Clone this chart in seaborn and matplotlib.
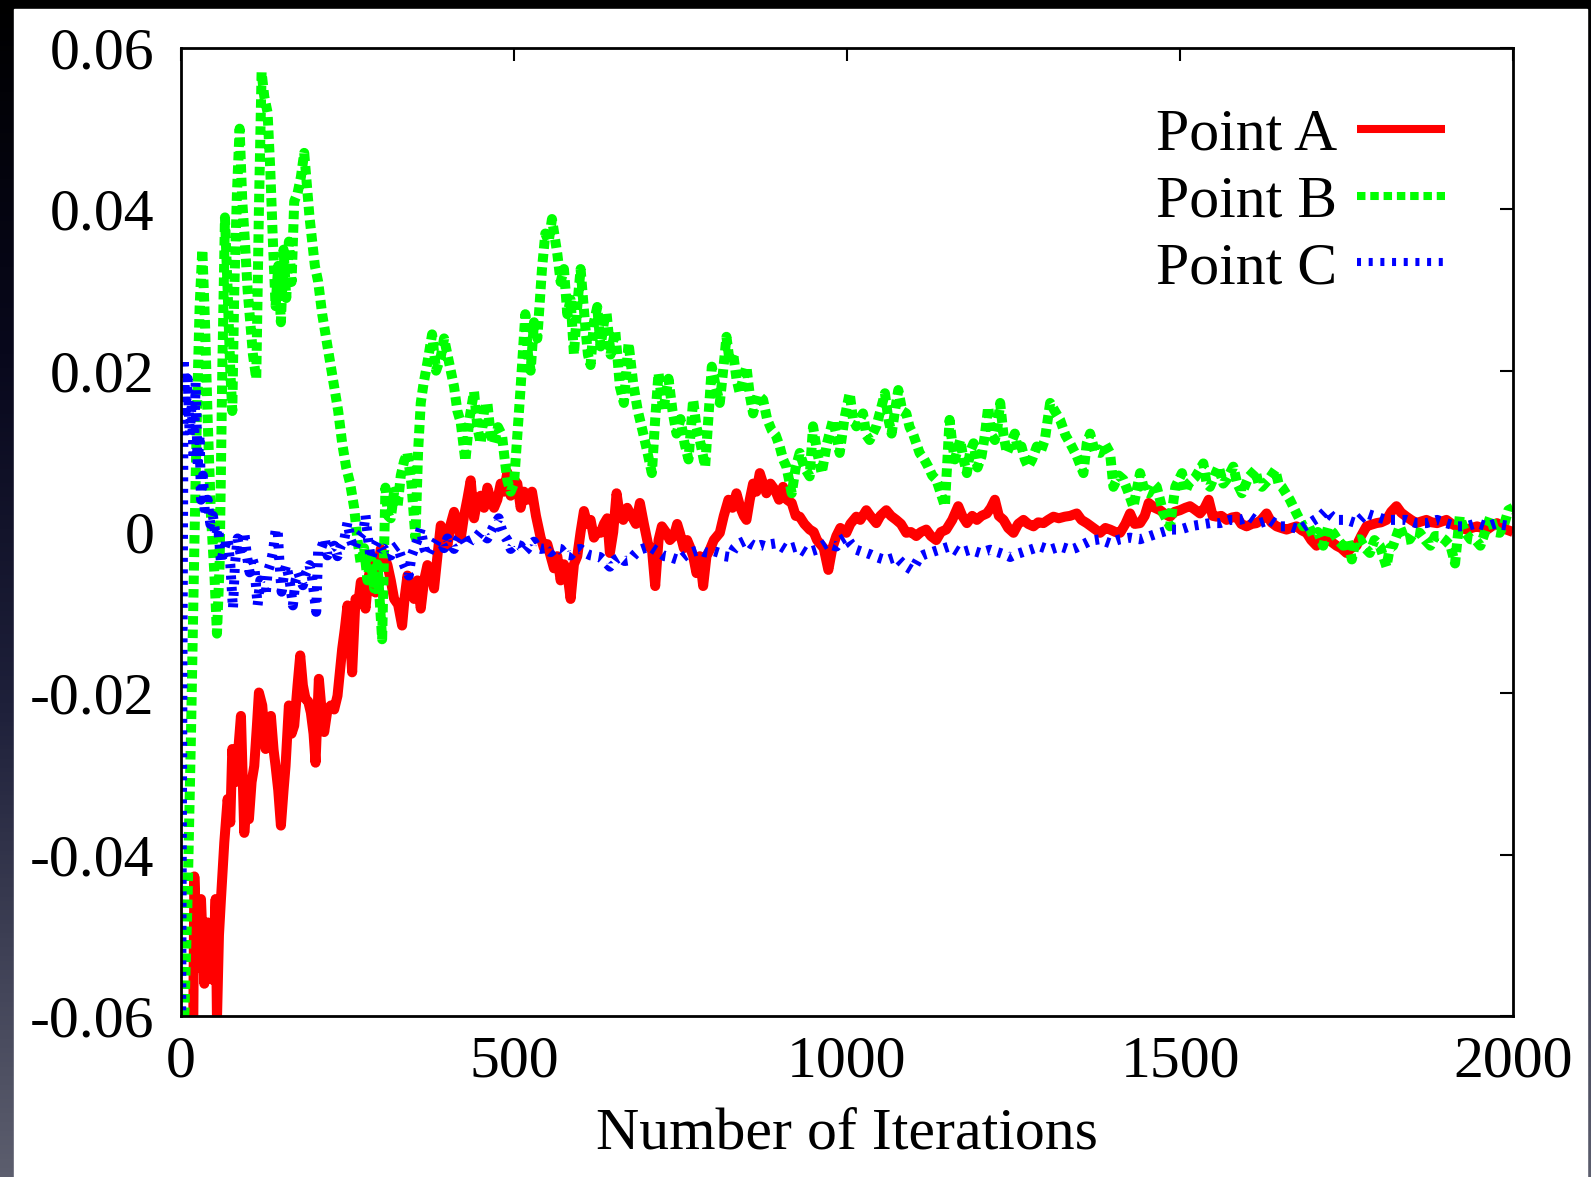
import numpy as np
import matplotlib
matplotlib.use("Agg")
import matplotlib.pyplot as plt
from matplotlib.patches import Rectangle
import seaborn as sns

# values (iteration, value)
iters_a = [18, 20, 25, 30, 35, 40, 47, 52, 54, 57, 60, 65, 70, 74, 77, 82, 86, 90, 95, 99,
           102, 106, 110, 114, 117, 122, 127, 131, 135, 139, 142, 146, 150, 154, 157, 162, 166, 170, 175, 179,
           183, 187, 191, 195, 199, 202, 207, 211, 215, 220, 225, 230, 235, 239, 242, 246, 250, 254, 257, 262,
           266, 270, 274, 277, 281, 285, 289, 292, 296, 300, 305, 310, 315, 320, 326, 332, 336, 340, 345, 350,
           355, 360, 365, 370, 375, 380, 385, 390, 395, 400, 405, 410, 415, 420, 425, 430, 435, 440, 445, 450,
           455, 460, 465, 470, 475, 480, 485, 490, 495, 500, 505, 510, 515, 520, 527, 533, 540, 545, 550, 555,
           560, 565, 570, 575, 580, 585, 590, 595, 600, 605, 610, 615, 620, 625, 630, 635, 640, 644, 649, 654,
           659, 664, 670, 677, 683, 689, 695, 702, 707, 712, 717, 722, 728, 734, 740, 745, 749, 755, 760, 764,
           769, 774, 779, 784, 789, 794, 800, 809, 815, 822, 828, 834, 840, 845, 849, 854, 859, 864, 869, 874,
           879, 885, 892, 898, 904, 910, 917, 923, 929, 936, 944, 950, 955, 959, 965, 972, 978, 984, 990, 999,
           1005, 1014, 1020, 1029, 1035, 1044, 1050, 1059, 1066, 1074, 1081, 1089, 1096, 1104, 1111, 1119, 1126, 1134, 1141, 1149,
           1158, 1167, 1173, 1180, 1188, 1195, 1202, 1210, 1216, 1222, 1228, 1235, 1242, 1250, 1257, 1265, 1272, 1280, 1287, 1295,
           1302, 1310, 1318, 1327, 1335, 1345, 1352, 1360, 1370, 1380, 1388, 1395, 1403, 1410, 1418, 1425, 1432, 1440, 1447, 1453,
           1462, 1470, 1478, 1485, 1492, 1500, 1508, 1515, 1522, 1530, 1537, 1543, 1549, 1555, 1562, 1570, 1578, 1585, 1592, 1600,
           1608, 1615, 1622, 1630, 1637, 1645, 1652, 1660, 1667, 1675, 1683, 1690, 1697, 1705, 1712, 1720, 1727, 1735, 1742, 1750,
           1757, 1765, 1772, 1780, 1787, 1795, 1802, 1810, 1817, 1825, 1832, 1840, 1847, 1855, 1862, 1870, 1878, 1886, 1893, 1900,
           1908, 1916, 1923, 1930, 1938, 1946, 1953, 1961, 1968, 1976, 1983, 1990, 2000]
vals_a = [-0.066, -0.0427, -0.054, -0.0455, -0.056, -0.0484, -0.0555, -0.0455, -0.0605, -0.05,
          -0.0455, -0.0385, -0.0331, -0.036, -0.0269, -0.031, -0.027, -0.0228, -0.0373, -0.033,
          -0.0356, -0.031, -0.029, -0.024, -0.0199, -0.0215, -0.0269, -0.025, -0.0228, -0.027,
          -0.029, -0.032, -0.0364, -0.032, -0.029, -0.0215, -0.025, -0.024, -0.019, -0.0153,
          -0.019, -0.0207, -0.021, -0.0224, -0.025, -0.0286, -0.0182, -0.022, -0.0248, -0.022,
          -0.0215, -0.022, -0.0203, -0.017, -0.0145, -0.012, -0.0091, -0.013, -0.0174, -0.0083,
          -0.009, -0.0062, -0.008, -0.0095, -0.006, -0.0041, -0.006, -0.0075, -0.004, -0.0021,
          -0.003, -0.0041, -0.006, -0.0083, -0.009, -0.0116, -0.008, -0.0054, -0.007, -0.0083,
          -0.006, -0.0095, -0.006, -0.0041, -0.005, -0.007, -0.003, 0.0008, 0.0, -0.0017,
          0.001, 0.0025, 0.001, -0.0008, 0.002, 0.0041, 0.0064, 0.0017, 0.004, 0.0045,
          0.003, 0.0055, 0.004, 0.003, 0.004, 0.006, 0.005, 0.0074, 0.0045, 0.0065,
          0.006, 0.003, 0.005, 0.004, 0.005, 0.002, -0.0007, -0.002, -0.0015, -0.003,
          -0.0045, -0.003, -0.006, -0.004, -0.005, -0.0083, -0.004, -0.003, 0.0, 0.0026,
          0.001, 0.0015, -0.0007, 0.0, -0.0001, 0.001, 0.0017, -0.0026, 0.0, 0.0048,
          0.002, 0.0015, 0.003, 0.0019, 0.001, 0.0036, 0.001, -0.0018, -0.002, -0.0067,
          -0.001, 0.0007, 0.0, -0.001, -0.0005, 0.001, -0.0001, -0.002, -0.001, -0.0018,
          -0.003, -0.0051, -0.003, -0.0067, -0.003, -0.0022, -0.001, -0.0001, 0.002, 0.004,
          0.003, 0.0048, 0.003, 0.002, 0.0015, 0.004, 0.006, 0.005, 0.0073, 0.006,
          0.0048, 0.006, 0.0052, 0.004, 0.0056, 0.004, 0.0036, 0.002, 0.0019, 0.001,
          0.0003, 0.0, -0.001, -0.0014, -0.002, -0.0047, -0.002, -0.0005, 0.0005, -0.0001,
          0.001, 0.0019, 0.0015, 0.0027, 0.002, 0.0011, 0.002, 0.0027, 0.002, 0.0015,
          0.001, -0.0001, 0.0, -0.0005, 0.0, 0.0003, -0.0005, -0.001, 0.0, 0.0003,
          0.0015, 0.0032, 0.002, 0.0011, 0.002, 0.0015, 0.002, 0.0023, 0.003, 0.004,
          0.002, 0.0015, 0.0005, -0.0001, 0.001, 0.0015, 0.001, 0.0007, 0.0012, 0.0011,
          0.0015, 0.0019, 0.0017, 0.0019, 0.002, 0.0023, 0.0015, 0.0011, 0.0005, -0.0001,
          0.0005, 0.0003, 0.0, -0.0001, 0.001, 0.0023, 0.001, 0.0011, 0.002, 0.0036,
          0.003, 0.0027, 0.0022, 0.0019, 0.0025, 0.0027, 0.003, 0.0032, 0.0028, 0.0023,
          0.003, 0.004, 0.002, 0.0019, 0.002, 0.0015, 0.0018, 0.0019, 0.001, 0.0007,
          0.001, 0.0011, 0.0015, 0.0023, 0.0012, 0.0007, 0.0005, 0.0003, 0.0005, 0.0007,
          0.0002, -0.0001, -0.001, -0.0017, -0.001, -0.0009, -0.0012, -0.0017, -0.002, -0.0026,
          -0.002, -0.0017, -0.0005, 0.0007, 0.0009, 0.0011, 0.0012, 0.0015, 0.0025, 0.0032,
          0.0024, 0.0019, 0.0015, 0.0011, 0.0013, 0.0015, 0.0012, 0.0011, 0.0013, 0.0015,
          0.001, 0.0007, 0.0005, 0.0003, 0.0005, 0.0007, 0.0005, 0.0003, 0.0007, 0.0011,
          0.0007, 0.0003, 0.0]

iters_b = [0, 5, 10, 15, 20, 24, 28, 32, 36, 40, 45, 50, 54, 58, 62, 66, 70, 74, 77, 80,
           84, 88, 92, 96, 100, 104, 108, 113, 117, 121, 125, 130, 134, 138, 142, 146, 150, 154, 158, 162,
           166, 170, 175, 180, 185, 189, 193, 197, 201, 206, 212, 218, 224, 230, 236, 242, 248, 254, 260, 265,
           270, 275, 280, 285, 290, 295, 302, 307, 311, 315, 320, 325, 330, 335, 340, 346, 352, 356, 360, 364,
           370, 377, 383, 390, 395, 400, 405, 410, 415, 420, 427, 433, 440, 445, 450, 455, 460, 465, 470, 476,
           482, 486, 490, 495, 500, 505, 510, 517, 521, 525, 530, 535, 542, 547, 552, 557, 565, 570, 575, 580,
           585, 590, 595, 600, 607, 611, 615, 620, 625, 630, 635, 639, 645, 652, 659, 665, 672, 679, 686, 694,
           700, 707, 712, 717, 724, 732, 738, 744, 750, 756, 762, 769, 774, 779, 787, 797, 803, 809, 814, 819,
           824, 829, 834, 839, 844, 849, 854, 859, 866, 874, 880, 887, 893, 899, 904, 909, 917, 923, 929, 936,
           944, 949, 955, 962, 970, 979, 984, 989, 996, 1004, 1009, 1014, 1024, 1029, 1034, 1044, 1050, 1057, 1062, 1067,
           1072, 1077, 1083, 1089, 1094, 1099, 1104, 1109, 1116, 1122, 1128, 1134, 1140, 1147, 1154, 1158, 1162, 1170, 1175, 1180,
           1185, 1190, 1196, 1202, 1207, 1212, 1217, 1222, 1226, 1230, 1235, 1240, 1246, 1252, 1257, 1262, 1267, 1272, 1278, 1285,
           1291, 1297, 1305, 1312, 1320, 1328, 1335, 1345, 1355, 1360, 1365, 1372, 1380, 1387, 1395, 1400, 1408, 1415, 1422, 1430,
           1440, 1447, 1453, 1460, 1465, 1470, 1475, 1485, 1493, 1503, 1508, 1513, 1523, 1535, 1540, 1545, 1552, 1558, 1565, 1570,
           1580, 1586, 1593, 1603, 1613, 1618, 1623, 1633, 1643, 1648, 1653, 1665, 1675, 1685, 1692, 1700, 1707, 1715, 1722, 1730,
           1737, 1745, 1752, 1758, 1764, 1770, 1778, 1785, 1792, 1800, 1805, 1810, 1815, 1820, 1825, 1830, 1838, 1845, 1852, 1860,
           1868, 1876, 1883, 1890, 1898, 1906, 1913, 1920, 1928, 1936, 1944, 1951, 1958, 1966, 1973, 1980, 1987, 1993, 2000]
vals_b = [-0.065, -0.06, -0.045, -0.025, -0.002, 0.015, 0.028, 0.035, 0.026, 0.014,
          0.002, -0.005, -0.0126, -0.004, 0.02, 0.039, 0.03, 0.02, 0.015, 0.03,
          0.042, 0.05, 0.041, 0.036, 0.03, 0.026, 0.022, 0.019, 0.04, 0.057,
          0.054, 0.052, 0.045, 0.036, 0.028, 0.033, 0.026, 0.035, 0.029, 0.036,
          0.031, 0.041, 0.042, 0.044, 0.047, 0.043, 0.039, 0.036, 0.033, 0.031,
          0.027, 0.024, 0.021, 0.018, 0.015, 0.011, 0.008, 0.006, 0.003, -0.001,
          -0.004, -0.002, -0.006, -0.003, -0.007, -0.004, -0.0133, 0.0055, 0.002, 0.0017,
          0.005, 0.003, 0.007, 0.0088, 0.0098, 0.006, -0.0007, 0.01, 0.016, 0.0183,
          0.021, 0.0245, 0.02, 0.0217, 0.024, 0.022, 0.02, 0.018, 0.015, 0.0136,
          0.0088, 0.014, 0.0174, 0.013, 0.011, 0.015, 0.016, 0.012, 0.011, 0.013,
          0.012, 0.009, 0.0064, 0.005, 0.006, 0.012, 0.018, 0.027, 0.022, 0.02,
          0.026, 0.024, 0.0326, 0.037, 0.036, 0.0388, 0.0345, 0.031, 0.0326, 0.027,
          0.0288, 0.022, 0.028, 0.0326, 0.0255, 0.022, 0.0207, 0.026, 0.0279, 0.023,
          0.026, 0.0271, 0.022, 0.025, 0.018, 0.016, 0.0234, 0.0184, 0.015, 0.0122,
          0.01, 0.0073, 0.014, 0.0197, 0.015, 0.019, 0.015, 0.0122, 0.014, 0.011,
          0.009, 0.0164, 0.013, 0.0114, 0.0081, 0.0205, 0.018, 0.016, 0.02, 0.0242,
          0.021, 0.0222, 0.019, 0.0172, 0.019, 0.0205, 0.017, 0.0147, 0.017, 0.0164,
          0.014, 0.0126, 0.012, 0.0106, 0.009, 0.0081, 0.0048, 0.008, 0.0098, 0.008,
          0.0069, 0.0131, 0.01, 0.0073, 0.011, 0.0139, 0.012, 0.0098, 0.014, 0.0172,
          0.014, 0.0131, 0.0147, 0.012, 0.0114, 0.0131, 0.015, 0.0172, 0.014, 0.0122,
          0.015, 0.0176, 0.015, 0.0147, 0.013, 0.0122, 0.011, 0.0098, 0.009, 0.0081,
          0.007, 0.0065, 0.005, 0.0032, 0.0139, 0.011, 0.009, 0.0114, 0.009, 0.0073,
          0.01, 0.011, 0.008, 0.0094, 0.012, 0.0155, 0.012, 0.0114, 0.013, 0.016,
          0.012, 0.0098, 0.011, 0.0122, 0.01, 0.0106, 0.009, 0.0081, 0.009, 0.0106,
          0.01, 0.0114, 0.016, 0.015, 0.0139, 0.012, 0.011, 0.0094, 0.0073, 0.011,
          0.0122, 0.01, 0.0098, 0.011, 0.0098, 0.0056, 0.007, 0.0065, 0.005, 0.0031,
          0.0073, 0.005, 0.0048, 0.006, 0.0056, 0.004, 0.0023, 0.0007, 0.0056, 0.0073,
          0.005, 0.006, 0.0068, 0.0085, 0.006, 0.0056, 0.007, 0.0081, 0.006, 0.0065,
          0.0081, 0.006, 0.0048, 0.0068, 0.0077, 0.006, 0.0056, 0.0065, 0.0077, 0.006,
          0.0056, 0.004, 0.0023, 0.0007, 0.001, -0.0005, 0.0, -0.0017, 0.0005, -0.0001,
          -0.001, -0.0017, -0.001, -0.0034, -0.001, -0.0009, -0.002, -0.0026, -0.001, -0.0017,
          -0.003, -0.0043, -0.002, -0.0017, -0.0005, 0.0007, -0.001, -0.0009, 0.0, -0.0001,
          -0.001, -0.0017, -0.0005, -0.0005, -0.001, -0.0017, -0.0039, 0.0019, 0.0, -0.0009,
          -0.001, -0.0017, 0.0, 0.0019, 0.0, -0.0001, 0.001, 0.0027, 0.003]

iters_c = [0, 2, 4, 7, 10, 13, 16, 19, 22, 25, 28, 30, 33, 36, 40, 44, 48, 52, 56, 60,
           65, 70, 74, 78, 81, 85, 90, 95, 99, 103, 106, 110, 115, 119, 123, 127, 130, 134, 138, 142,
           145, 148, 151, 155, 158, 163, 168, 172, 176, 180, 183, 188, 193, 197, 203, 206, 210, 216, 220, 225,
           230, 235, 240, 245, 250, 255, 260, 265, 270, 274, 277, 281, 285, 290, 295, 300, 305, 310, 315, 320,
           325, 330, 335, 342, 346, 350, 355, 360, 365, 370, 375, 380, 385, 390, 395, 400, 405, 410, 415, 420,
           425, 430, 435, 440, 445, 450, 455, 460, 465, 470, 477, 481, 485, 490, 495, 502, 510, 515, 520, 525,
           530, 535, 540, 548, 555, 562, 570, 577, 585, 592, 600, 607, 615, 622, 629, 636, 644, 651, 659, 666,
           674, 681, 689, 696, 704, 711, 719, 726, 734, 741, 749, 756, 764, 771, 779, 786, 794, 801, 809, 816,
           824, 831, 839, 844, 849, 856, 864, 871, 879, 886, 894, 901, 909, 916, 924, 931, 939, 946, 954, 961,
           969, 976, 984, 991, 999, 1006, 1014, 1021, 1029, 1036, 1044, 1051, 1059, 1066, 1074, 1081, 1089, 1097, 1103, 1109,
           1116, 1124, 1131, 1139, 1146, 1154, 1162, 1170, 1177, 1185, 1192, 1200, 1207, 1215, 1222, 1230, 1237, 1245, 1252, 1260,
           1267, 1275, 1282, 1290, 1297, 1305, 1312, 1320, 1328, 1335, 1343, 1350, 1358, 1365, 1372, 1380, 1388, 1395, 1403, 1410,
           1418, 1425, 1432, 1440, 1447, 1455, 1462, 1470, 1478, 1485, 1492, 1500, 1508, 1515, 1522, 1530, 1537, 1545, 1552, 1560,
           1567, 1575, 1582, 1590, 1597, 1605, 1612, 1620, 1627, 1635, 1642, 1650, 1657, 1665, 1672, 1680, 1687, 1695, 1702, 1710,
           1720, 1727, 1735, 1742, 1750, 1757, 1765, 1772, 1780, 1787, 1795, 1802, 1810, 1817, 1825, 1832, 1840, 1847, 1855, 1862,
           1870, 1878, 1886, 1893, 1900, 1908, 1916, 1923, 1930, 1938, 1946, 1953, 1961, 1968, 1976, 1983, 1990, 2000]
vals_c = [-0.065, -0.02, 0.0215, 0.015, 0.019, 0.012, 0.016, 0.009, 0.0185, 0.008,
          0.012, 0.004, 0.007, 0.002, 0.004, 0.001, 0.002, -0.0005, 0.0005, -0.0038,
          -0.002, -0.0008, -0.004, -0.0095, -0.004, -0.0008, -0.003, 0.0, -0.003, -0.005,
          -0.003, -0.0041, -0.0091, -0.006, -0.0062, -0.0079, -0.005, -0.004, -0.0025, 0.0002,
          0.0004, -0.004, -0.0074, -0.005, -0.0041, -0.006, -0.0091, -0.006, -0.005, -0.006,
          -0.0066, -0.005, -0.0041, -0.0058, -0.0099, -0.0021, -0.0021, -0.0008, -0.0029, -0.002,
          -0.0017, -0.003, -0.0017, -0.001, 0.0012, -0.001, -0.0021, -0.001, -0.0004, 0.0,
          0.0021, -0.001, -0.0033, -0.002, -0.0012, -0.002, -0.0021, -0.003, -0.0029, -0.002,
          -0.0017, -0.003, -0.0041, -0.0054, -0.003, -0.0021, -0.001, 0.0004, -0.002, -0.0029,
          -0.002, -0.0017, -0.001, -0.0012, -0.002, -0.0008, -0.0015, -0.0021, -0.001, -0.0004,
          -0.001, -0.0017, -0.001, -0.0008, -0.0005, 0.0, -0.0005, -0.0008, 0.0, 0.0008,
          0.0017, 0.0005, -0.0004, -0.001, -0.0021, -0.0015, -0.0017, -0.0025, -0.0021, -0.0015,
          -0.0012, -0.002, -0.0021, -0.002, -0.0025, -0.002, -0.0021, -0.0028, -0.0029, -0.0022,
          -0.0021, -0.0026, -0.0029, -0.003, -0.0031, -0.0036, -0.0043, -0.0035, -0.0031, -0.0036,
          -0.0035, -0.0028, -0.0022, -0.002, -0.0018, -0.0022, -0.0026, -0.003, -0.0031, -0.0033,
          -0.0035, -0.003, -0.0026, -0.0024, -0.0022, -0.0025, -0.0026, -0.0024, -0.0026, -0.003,
          -0.0031, -0.002, -0.0014, -0.0012, -0.001, -0.0015, -0.0018, -0.0016, -0.0018, -0.0015,
          -0.0014, -0.0018, -0.0022, -0.002, -0.0018, -0.0022, -0.0026, -0.0024, -0.0022, -0.0018,
          -0.0014, -0.0016, -0.0018, -0.001, -0.0006, -0.0015, -0.0022, -0.0024, -0.0026, -0.0028,
          -0.0031, -0.0033, -0.0035, -0.0033, -0.0031, -0.0037, -0.0043, -0.0047, -0.004, -0.0031,
          -0.0028, -0.0026, -0.0024, -0.0022, -0.002, -0.0018, -0.0022, -0.0026, -0.0024, -0.0022,
          -0.0024, -0.0026, -0.0024, -0.0022, -0.0024, -0.0026, -0.0028, -0.0031, -0.0028, -0.0026,
          -0.0024, -0.0022, -0.002, -0.0018, -0.002, -0.0022, -0.002, -0.0018, -0.002, -0.0022,
          -0.002, -0.0017, -0.0014, -0.0011, -0.001, -0.0009, -0.0012, -0.0014, -0.0011, -0.0009,
          -0.0008, -0.0007, -0.0008, -0.0009, -0.0007, -0.0005, -0.0003, -0.0001, 0.0001, 0.0003,
          0.0003, 0.0003, 0.0005, 0.0007, 0.0008, 0.0009, 0.001, 0.0011, 0.0011, 0.0011,
          0.0013, 0.0015, 0.0015, 0.0015, 0.0017, 0.0019, 0.0015, 0.0011, 0.0013, 0.0015,
          0.0011, 0.0007, 0.0007, 0.0007, 0.0005, 0.0003, 0.0007, 0.0011, 0.0015, 0.0019,
          0.0027, 0.002, 0.0015, 0.0015, 0.0015, 0.0013, 0.0011, 0.0017, 0.0023, 0.0021,
          0.0019, 0.0017, 0.0015, 0.0015, 0.0015, 0.0015, 0.0015, 0.0013, 0.0011, 0.0011,
          0.0011, 0.0013, 0.0015, 0.0013, 0.0011, 0.0009, 0.0007, 0.0007, 0.0007, 0.0009,
          0.0011, 0.0009, 0.0007, 0.0009, 0.0011, 0.0009, 0.0008, 0.0007]

labels = ["Point A", "Point B", "Point C"]
x_ticks = [0, 500, 1000, 1500, 2000]
y_ticks = [-0.06, -0.04, -0.02, 0, 0.02, 0.04, 0.06]
y_ticklabels = ["-0.06", "-0.04", "-0.02", "0", "0.02", "0.04", "0.06"]

sns.set_theme(style="white")
plt.rcParams["font.family"] = ["Liberation Serif", "DejaVu Serif"]
plt.rcParams["lines.solid_capstyle"] = "butt"
plt.rcParams["text.color"] = "black"
plt.rcParams["axes.labelcolor"] = "black"

W, H = 1591, 1177
fig = plt.figure(figsize=(W / 100, H / 100), dpi=100)

# dark slide background with white card
bg = fig.add_axes([0, 0, 1, 1], zorder=-10)
stops = np.array([[0, 0, 0], [8, 8, 28], [30, 32, 58], [92, 94, 110]]) / 255.0
pos = np.linspace(0, 1, 256)
grad = np.stack([np.interp(pos, [0, 0.3, 0.6, 1], stops[:, k]) for k in range(3)], axis=-1)
bg.imshow(grad[:, None, :], extent=[0, 1, 0, 1], aspect="auto", origin="upper")
bg.add_patch(Rectangle((14 / W, 0), (1587 - 14) / W, 1 - 9 / H, color="white", zorder=2))
bg.set_axis_off()

ax = fig.add_axes([181 / W, 1 - 1016 / H, (1513 - 181) / W, (1016 - 48) / H])
ax.set_facecolor("white")

lw = 7.2
sns.lineplot(x=iters_a, y=vals_a, ax=ax, color="#ff0000", linewidth=lw,
             sort=False, estimator=None, label=labels[0])
sns.lineplot(x=iters_b, y=vals_b, ax=ax, color="#00ff00", linewidth=lw,
             sort=False, estimator=None, label=labels[1])
sns.lineplot(x=iters_c, y=vals_c, ax=ax, color="#0000ff", linewidth=lw,
             sort=False, estimator=None, label=labels[2])
lines = ax.get_lines()
lines[1].set_linestyle((0, (0.85, 0.5)))
lines[2].set_linestyle((0, (0.4, 0.75)))

ax.set_xlim(0, 2000)
ax.set_ylim(-0.06, 0.06)
ax.set_xticks(x_ticks)
ax.set_xticklabels([str(t) for t in x_ticks])
ax.set_yticks(y_ticks)
ax.set_yticklabels(y_ticklabels)
ax.tick_params(direction="in", length=9.5, width=1.5, top=True, right=True,
               labelsize=43, colors="black")
ax.tick_params(axis="x", pad=14)
ax.tick_params(axis="y", pad=19)
for s in ax.spines.values():
    s.set_visible(True)
    s.set_color("black")
    s.set_linewidth(2)

ax.set_xlabel("Number of Iterations", fontsize=43, labelpad=13, color="black")
ax.set_ylabel("")

leg = ax.legend(loc="upper right", bbox_to_anchor=(0.949, 0.938), frameon=False,
                fontsize=43, markerfirst=False, handlelength=1.48, handletextpad=0.33,
                labelspacing=0.2, borderpad=0, borderaxespad=0)
for t in leg.get_texts():
    t.set_color("black")
leg_styles = ["-", (0, (1.05, 0.6)), (0, (0.5, 0.95))]
for h, st in zip(leg.get_lines(), leg_styles):
    h.set_linewidth(5.8)
    h.set_linestyle(st)

fig.savefig("out.png", dpi=100)
